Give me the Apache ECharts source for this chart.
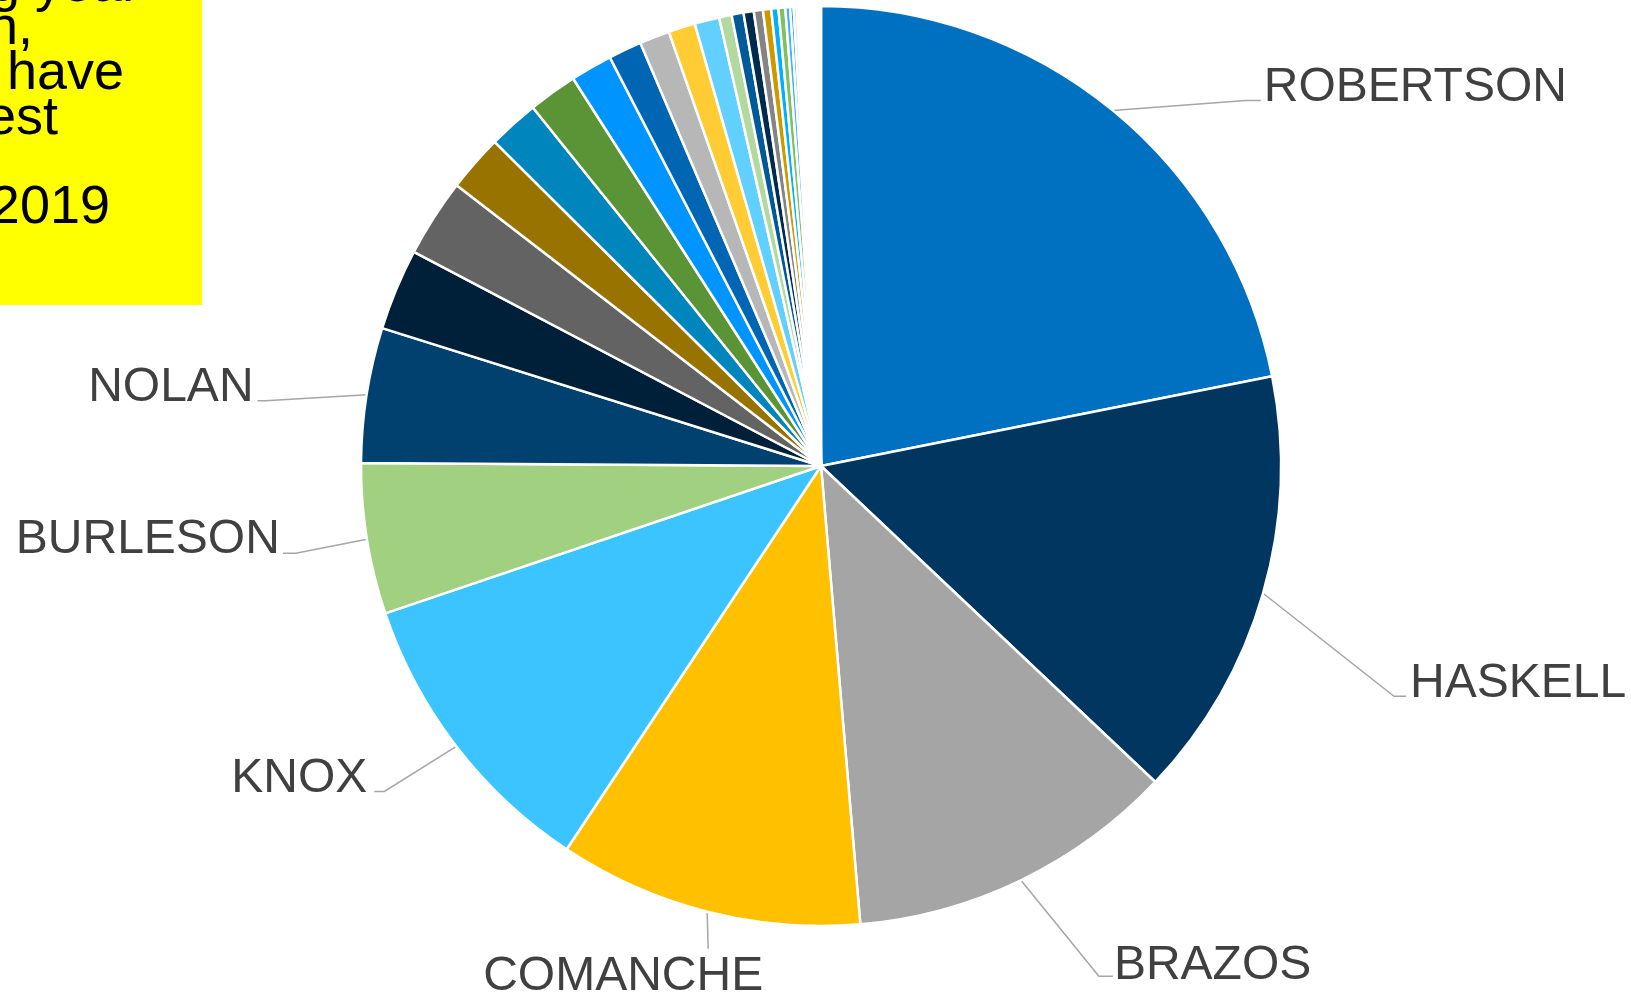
<!DOCTYPE html>
<html lang="en">
<head>
<meta charset="UTF-8">
<title>Counties pie</title>
<script src="https://cdn.jsdelivr.net/npm/echarts@6/dist/echarts.min.js"></script>
<style>
  html, body { margin: 0; padding: 0; background: #fff; }
  #main { width: 1631px; height: 993px; }
</style>
</head>
<body>
<div id="main"></div>
<script>
// labelled counties (share of total, %)
var counties = ['ROBERTSON', 'HASKELL', 'BRAZOS', 'COMANCHE', 'KNOX', 'BURLESON', 'NOLAN'];
var countyShares = [21.9, 15.2, 11.6, 10.7, 10.5, 5.3, 4.75];
// remaining, unlabelled counties, read clockwise after NOLAN
var otherShares = [2.86, 2.75, 2.0, 1.78, 1.72, 1.47, 1.17, 1.06, 0.94, 0.87,
                   0.44, 0.42, 0.36, 0.32, 0.29, 0.25, 0.24, 0.17, 0.12, 0.11,
                   0.07, 0.07, 0.07, 0.07, 0.07, 0.07, 0.07, 0.07, 0.07, 0.07, 0.07, 0.07];
// note box text (left part is cut off in the original)
var noteLines = ['g year', 'n,', 'have', 'est', '', '2019'];

var palette = [
    '#0070C0', '#003660', '#A5A5A5', '#FFC000', '#3BC4FF', '#A0D080',
    '#00416F', '#00203A', '#636363', '#997300', '#0085BC', '#5B9436',
    '#0094FF', '#0066B3', '#B7B7B7', '#FFCD33', '#62D0FF', '#B3D9A0',
    '#005A9A', '#002B4D', '#848484', '#CC9A00', '#00B0FB', '#80C060',
    '#40AFFF', '#0792FF', '#C9C9C9', '#FFD966', '#89DCFF', '#C6E3B9',
    '#003860', '#001B30', '#535353', '#806000', '#0070A0', '#4A7A2A',
    '#66BFFF', '#3A8FD0', '#DBDBDB'
];

// leader line / label placement relative to the slice edge point
// [p2dx, p2dy, p3dx, textDx, baselineDy, align]
var labelPlace = {
    ROBERTSON: [133, -10, 15, 3, 0, 'left'],
    HASKELL:   [131, 103, 12, 4, 0, 'left'],
    BRAZOS:    [78, 96, 14, 1, 2, 'left'],
    COMANCHE:  [1, 37, 0, -85, 41, 'center'],
    KNOX:      [-72, 45, -10, -7, 0, 'right'],
    BURLESON:  [-71, 14, -13, -3, 0, 'right'],
    NOLAN:     [-101, 6, -8, -4, 0, 'right']
};

var data = [];
counties.forEach(function (n, i) {
    data.push({ name: n, value: countyShares[i] });
});
otherShares.forEach(function (v, i) {
    data.push({
        name: 'other' + (i + 1),
        value: v,
        label: { show: false },
        labelLine: { show: false }
    });
});

var chart = echarts.init(document.getElementById('main'));

var noteElems = [{
    type: 'rect',
    shape: { x: 0, y: 0, width: 202, height: 305 },
    style: { fill: '#FFFF00' },
    z: 10
}];
var noteRight = [140, 33, 124, 58, 0, 110];
var noteBase = [5, 47.8, 92.6, 137.4, 0, 227];
noteLines.forEach(function (t, i) {
    if (!t) return;
    noteElems.push({
        type: 'text',
        x: noteRight[i],
        y: noteBase[i] - 18.7,
        z: 11,
        style: {
            text: t,
            fill: '#000',
            font: '54px "Liberation Sans", Arial, sans-serif',
            align: 'right',
            verticalAlign: 'middle'
        }
    });
});

var option = {
    animation: false,
    color: palette,
    graphic: { elements: noteElems },
    series: [{
        type: 'pie',
        center: [821, 466],
        radius: [0, 460],
        startAngle: 90,
        clockwise: true,
        avoidLabelOverlap: false,
        itemStyle: { borderColor: '#fff', borderWidth: 2.5 },
        label: {
            show: true,
            position: 'outside',
            formatter: '{b}',
            color: '#404040',
            fontSize: 48,
            fontFamily: '"Liberation Sans", Arial, sans-serif',
            overflow: 'none'
        },
        labelLine: {
            show: true,
            length: 20,
            length2: 10,
            lineStyle: { color: '#A6A6A6', width: 1.5 }
        },
        labelLayout: function (params) {
            var name = counties[params.dataIndex];
            var pl = name && labelPlace[name];
            if (!pl || !params.labelLinePoints) return {};
            var p1 = params.labelLinePoints[0];
            var p2 = [p1[0] + pl[0], p1[1] + pl[1]];
            var p3 = [p2[0] + pl[2], p2[1]];
            return {
                x: p3[0] + pl[3],
                y: p3[1] + pl[4] - 13,
                align: pl[5],
                verticalAlign: 'middle',
                labelLinePoints: [p1, p2, p3]
            };
        },
        data: data
    }]
};
chart.setOption(option);
</script>
</body>
</html>
